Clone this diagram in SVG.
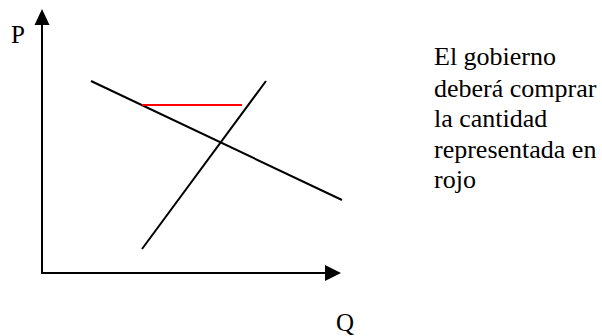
<svg xmlns="http://www.w3.org/2000/svg" width="602" height="336" viewBox="0 0 602 336">
<style>
.ln{stroke:#000;stroke-width:2;fill:none}
.red{stroke:#ff0000;stroke-width:2;fill:none}
.t{font-family:"Liberation Serif","Times New Roman",serif;font-size:25px;fill:#000}
.note{font-size:26px}
</style>
<rect width="602" height="336" fill="#fff"/>
<g id="axes">
<line class="ln" x1="42" y1="24" x2="42" y2="274"/>
<line class="ln" x1="41" y1="273" x2="327" y2="273"/>
<polygon points="42,9 34.5,25 49.5,25" fill="#000"/>
<polygon points="341,273 325,265 325,281" fill="#000"/>
</g>
<g id="curves">
<line id="demand" class="ln" x1="91" y1="81" x2="342" y2="200"/>
<line id="supply" class="ln" x1="142" y1="249" x2="266" y2="81"/>
<line id="surplus" class="red" x1="142" y1="105" x2="242" y2="105"/>
</g>
<g id="labels">
<text class="t" x="11" y="43">P</text>
<text class="t" x="336" y="331">Q</text>
<text class="t note" x="434" y="65">El gobierno</text>
<text class="t note" x="434" y="97">deberá comprar</text>
<text class="t note" x="434" y="127">la cantidad</text>
<text class="t note" x="434" y="158">representada en</text>
<text class="t note" x="434" y="188">rojo</text>
</g>
</svg>
